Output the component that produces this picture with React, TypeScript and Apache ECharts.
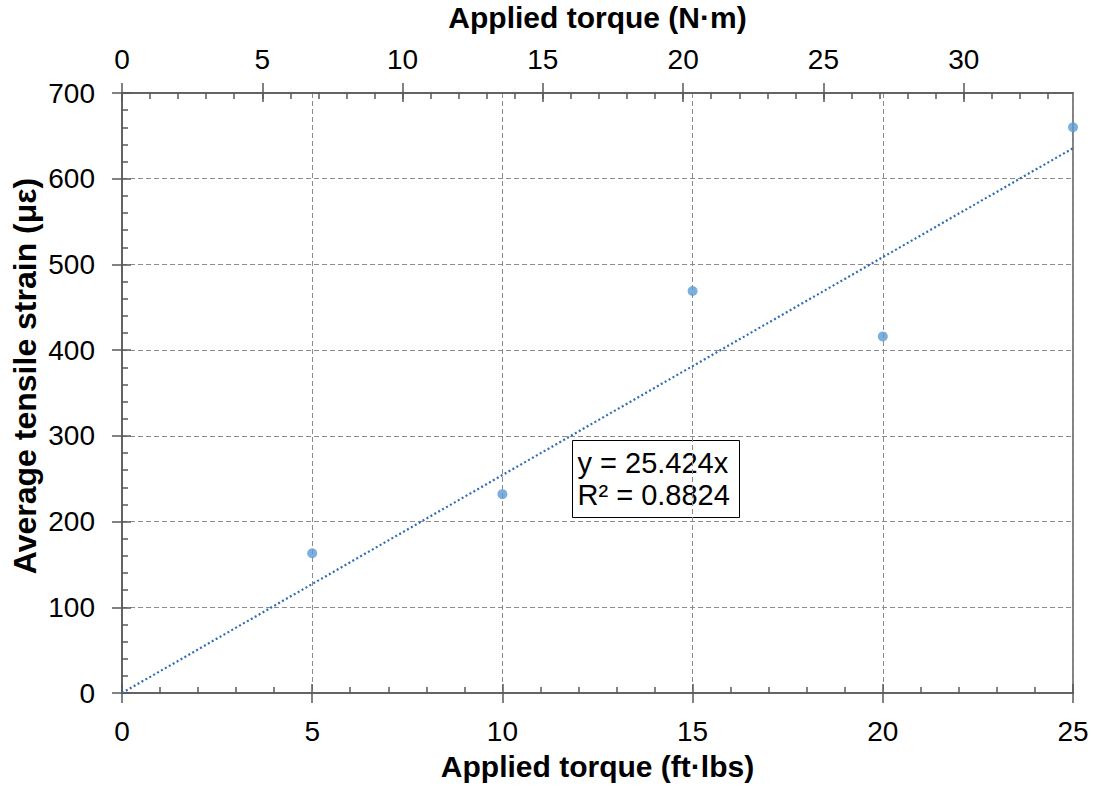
import React, { useEffect, useRef } from "react";
import * as echarts from "echarts";

const torqueFtLbs = [5, 10, 15, 20, 25];
const strainMicro = [163, 232, 469, 416, 660];
const trendSlope = 25.424;
const rSquared = 0.8824;
const ftLbsToNm = 1.35582;
const xMaxFtLbs = 25;
const yMax = 700;
const topMajorTicks = [0, 5, 10, 15, 20, 25, 30];
const topMinorTicks = Array.from({ length: 33 }, (_, i) => i + 1);
const yTitle = "Average tensile strain (με)";

const FONT = "Liberation Sans, Arial, sans-serif";
const AXIS_COLOR = "#595959";
const TEXT_COLOR = "#000000";

export default function App() {
  const ref = useRef<HTMLDivElement>(null);
  useEffect(() => {
    if (!ref.current) return;
    const chart = echarts.init(ref.current, undefined, { renderer: "svg" });
    const topMax = xMaxFtLbs * ftLbsToNm;
    const hidden = { show: false };
    const option: any = {
      animation: false,
      backgroundColor: "#ffffff",
      textStyle: { fontFamily: FONT, color: TEXT_COLOR },
      grid: {
        left: 122,
        right: 21,
        top: 93,
        bottom: 93,
        show: true,
        borderColor: AXIS_COLOR,
        borderWidth: 1.5,
        backgroundColor: "transparent",
        containLabel: false,
        outerBoundsMode: "none",
      },
      xAxis: [
        {
          type: "value",
          position: "bottom",
          min: 0,
          max: xMaxFtLbs,
          interval: 5,
          name: "Applied torque (ft·lbs)",
          nameLocation: "middle",
          nameGap: 58,
          nameMoveOverlap: false,
          nameTextStyle: { fontSize: 30, fontWeight: "bold", color: TEXT_COLOR, fontFamily: FONT },
          axisLine: { show: true, lineStyle: { color: AXIS_COLOR, width: 1.5 } },
          axisTick: { show: true, inside: true, length: 9, lineStyle: { color: AXIS_COLOR, width: 1.5 } },
          minorTick: { show: true, splitNumber: 5, length: 6, lineStyle: { color: AXIS_COLOR, width: 1.5 } },
          axisLabel: { fontSize: 28, color: TEXT_COLOR, margin: 24, fontFamily: FONT, hideOverlap: false },
          splitLine: { show: true, lineStyle: { color: "#8c8c8c", type: [5, 3], width: 1 } },
        },
        {
          type: "value",
          position: "bottom",
          min: 0,
          max: xMaxFtLbs,
          interval: 5,
          axisLine: hidden,
          axisTick: { show: true, inside: false, length: 10, lineStyle: { color: AXIS_COLOR, width: 1.5 } },
          axisLabel: hidden,
          splitLine: hidden,
        },
        {
          type: "value",
          position: "top",
          min: 0,
          max: topMax,
          interval: 5,
          name: "Applied torque (N·m)",
          nameLocation: "middle",
          nameGap: 61,
          nameMoveOverlap: false,
          nameTextStyle: { fontSize: 30, fontWeight: "bold", color: TEXT_COLOR, fontFamily: FONT },
          axisLine: { show: true, lineStyle: { color: AXIS_COLOR, width: 1.5 } },
          axisTick: {
            show: true,
            inside: true,
            length: 9,
            customValues: topMajorTicks,
            lineStyle: { color: AXIS_COLOR, width: 1.5 },
          },
          axisLabel: {
            fontSize: 28,
            color: TEXT_COLOR,
            margin: 20,
            fontFamily: FONT,
            customValues: topMajorTicks,
          },
          splitLine: hidden,
        },
        {
          type: "value",
          position: "top",
          min: 0,
          max: topMax,
          interval: 5,
          axisLine: hidden,
          axisTick: {
            show: true,
            inside: false,
            length: 10,
            customValues: topMajorTicks,
            lineStyle: { color: AXIS_COLOR, width: 1.5 },
          },
          axisLabel: hidden,
          splitLine: hidden,
        },
        {
          type: "value",
          position: "top",
          min: 0,
          max: topMax,
          interval: 1,
          axisLine: hidden,
          axisTick: {
            show: true,
            inside: true,
            length: 6,
            customValues: topMinorTicks,
            lineStyle: { color: AXIS_COLOR, width: 1.5 },
          },
          axisLabel: hidden,
          splitLine: hidden,
        },
      ],
      yAxis: [
        {
          type: "value",
          position: "left",
          min: 0,
          max: yMax,
          interval: 100,
          axisLine: { show: true, lineStyle: { color: AXIS_COLOR, width: 1.5 } },
          axisTick: { show: true, inside: true, length: 9, lineStyle: { color: AXIS_COLOR, width: 1.5 } },
          minorTick: { show: true, splitNumber: 5, length: 6, lineStyle: { color: AXIS_COLOR, width: 1.5 } },
          axisLabel: { fontSize: 28, color: TEXT_COLOR, margin: 27, fontFamily: FONT },
          splitLine: { show: true, lineStyle: { color: "#8c8c8c", type: [5, 3], width: 1 } },
        },
        {
          type: "value",
          position: "left",
          offset: 0,
          min: 0,
          max: yMax,
          interval: 100,
          axisLine: hidden,
          axisTick: { show: true, inside: false, length: 10, lineStyle: { color: AXIS_COLOR, width: 1.5 } },
          axisLabel: hidden,
          splitLine: hidden,
        },
      ],
      series: [
        {
          type: "line",
          name: "Linear trend",
          xAxisIndex: 0,
          yAxisIndex: 0,
          data: [
            [0, 0],
            [xMaxFtLbs, trendSlope * xMaxFtLbs],
          ],
          symbol: "none",
          lineStyle: { color: "#2E6DB4", width: 2.2, type: [2, 2.5] },
          z: 3,
        },
        {
          type: "scatter",
          name: "Average tensile strain",
          xAxisIndex: 0,
          yAxisIndex: 0,
          data: torqueFtLbs.map((x, i) => [x, strainMicro[i]]),
          symbol: "circle",
          symbolSize: 10,
          itemStyle: { color: "#5B9BD5" },
          z: 4,
        },
      ],
      graphic: [
        {
          type: "text",
          x: 25,
          y: 376,
          rotation: Math.PI / 2,
          style: {
            text: yTitle,
            fontSize: 32,
            fontWeight: "bold",
            fontFamily: FONT,
            fill: TEXT_COLOR,
            align: "center",
            verticalAlign: "middle",
          },
        },
        {
          type: "group",
          left: 572,
          top: 440,
          z: 10,
          children: [
            {
              type: "rect",
              shape: { x: 0, y: 0, width: 167, height: 77 },
              style: { fill: "#ffffff", stroke: "#000000", lineWidth: 1 },
            },
            {
              type: "text",
              x: 5,
              y: 6,
              style: {
                text: `y = ${trendSlope}x\nR² = ${rSquared}`,
                fontSize: 29,
                lineHeight: 32,
                fontFamily: FONT,
                fill: TEXT_COLOR,
              },
            },
          ],
        },
      ],
    };
    chart.setOption(option);
    return () => chart.dispose();
  }, []);
  return (
    <div
      ref={ref}
      style={{ position: "fixed", left: 0, top: 0, width: 1094, height: 786 }}
    />
  );
}
